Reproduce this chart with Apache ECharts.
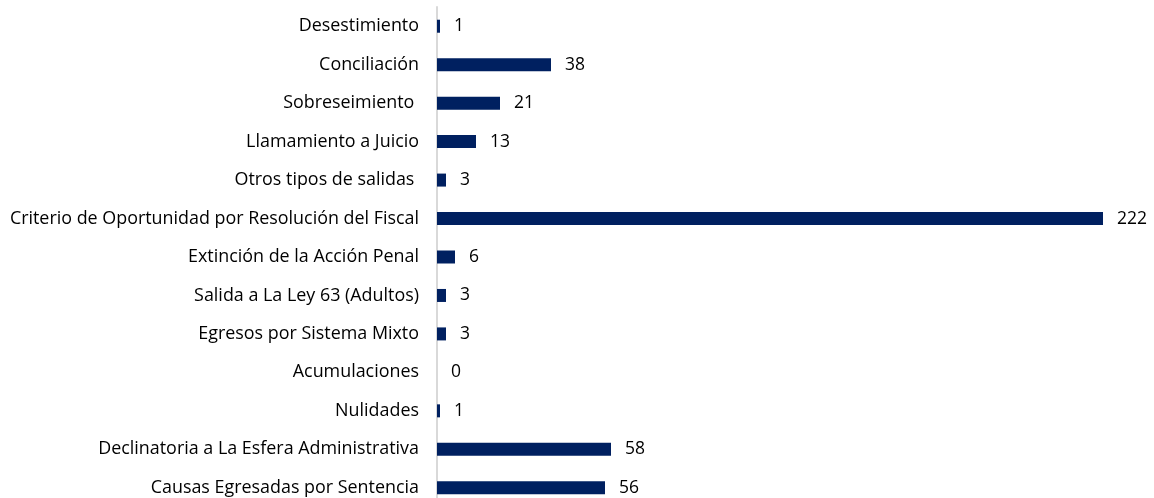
<!DOCTYPE html>
<html>
<head>
<meta charset="utf-8">
<script src="https://cdn.jsdelivr.net/npm/echarts@6/dist/echarts.min.js"></script>
<style>
  html, body { margin: 0; padding: 0; background: #fff; overflow: hidden; }
  #main { width: 1154px; height: 510px; }
</style>
</head>
<body>
<div id="main"></div>
<script>
// categories from top to bottom as in the picture
var categories = [
  "Desestimiento",
  "Conciliación",
  "Sobreseimiento ",
  "Llamamiento a Juicio",
  "Otros tipos de salidas ",
  "Criterio de Oportunidad por Resolución del Fiscal",
  "Extinción de la Acción Penal",
  "Salida a La Ley 63 (Adultos)",
  "Egresos por Sistema Mixto",
  "Acumulaciones",
  "Nulidades",
  "Declinatoria a La Esfera Administrativa",
  "Causas Egresadas por Sentencia"
];
var values = [1, 38, 21, 13, 3, 222, 6, 3, 3, 0, 1, 58, 56];

var myChart = echarts.init(document.getElementById("main"));
var option = {
  animation: false,
  grid: {
    left: 437,
    right: 51,
    top: 7,
    height: 500
  },
  xAxis: {
    type: "value",
    min: 0,
    max: 222,
    show: false
  },
  yAxis: {
    type: "category",
    inverse: true,
    data: categories,
    axisLine: { show: true, lineStyle: { color: "#d9d9d9", width: 2 } },
    axisTick: { show: false },
    axisLabel: {
      color: "#000",
      fontFamily: "Open Sans",
      fontSize: 17.9,
      margin: 18
    }
  },
  series: [
    {
      type: "bar",
      data: values,
      barWidth: 13,
      itemStyle: { color: "#002060" },
      label: {
        show: true,
        position: "right",
        distance: 14,
        color: "#000",
        fontFamily: "Open Sans",
        fontSize: 17.5
      }
    }
  ]
};
option && myChart.setOption(option);
</script>
</body>
</html>
